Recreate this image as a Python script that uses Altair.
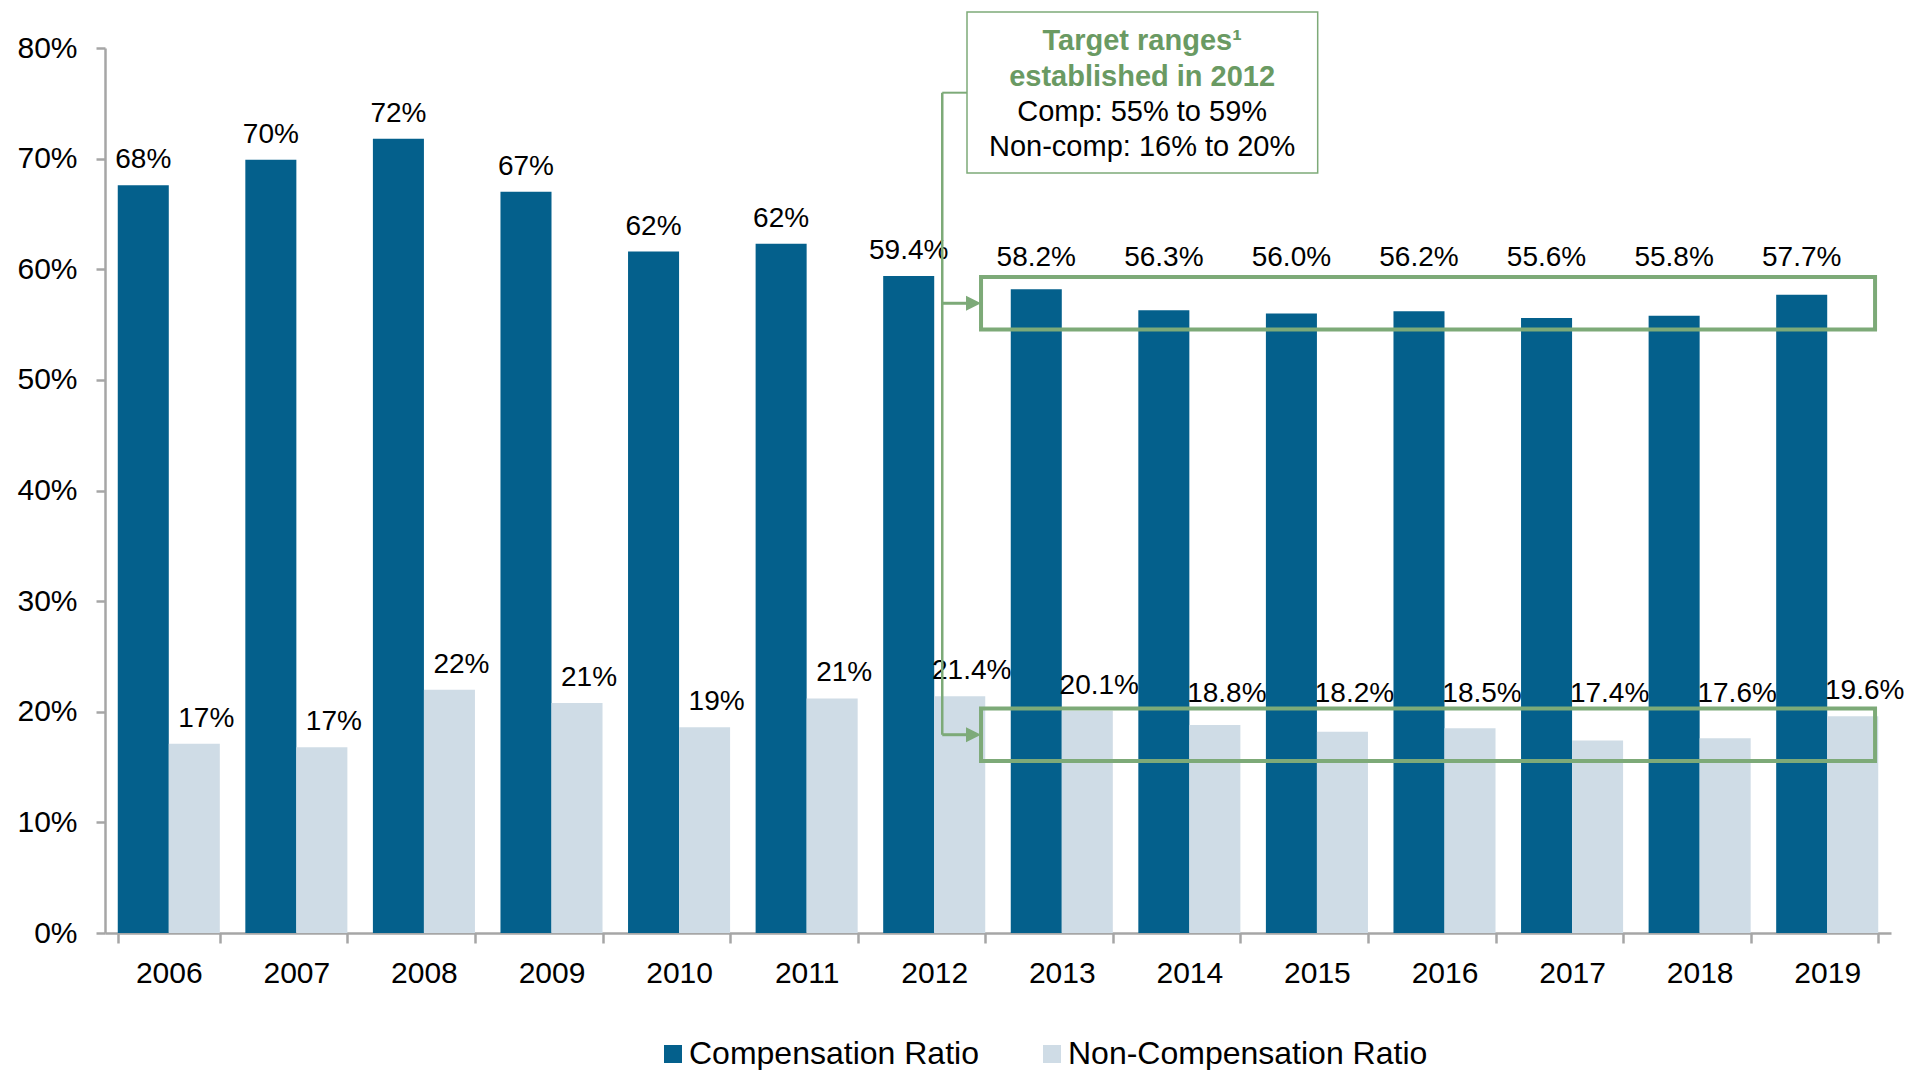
import altair as alt
import pandas as pd

# ---------------- data ----------------
years = [str(y) for y in range(2006, 2020)]
comp = [67.6, 69.9, 71.8, 67.0, 61.6, 62.3, 59.4, 58.2, 56.3, 56.0, 56.2, 55.6, 55.8, 57.7]
noncomp = [17.1, 16.8, 22.0, 20.8, 18.6, 21.2, 21.4, 20.1, 18.8, 18.2, 18.5, 17.4, 17.6, 19.6]
label_decimals = [0, 0, 0, 0, 0, 0, 1, 1, 1, 1, 1, 1, 1, 1]
series_names = ["Compensation Ratio", "Non-Compensation Ratio"]
y_ticks = [0, 10, 20, 30, 40, 50, 60, 70, 80]
comp_target = [55, 59]
noncomp_target = [16, 20]
target_year = 2013  # first year measured against the targets
note_lines = ["Target ranges\u00b9", "established in 2012", "Comp: 55% to 59%", "Non-comp: 16% to 20%"]

# ---------------- styles ----------------
COLORS = ["#04608C", "#CFDCE6"]
GREEN = "#7DAA78"
GREEN_TEXT = "#6A9A63"
AXIS_GRAY = "#A6A6A6"
FONT = "Liberation Sans"

# annotation geometry in band units (x) / value units (y)
ANN = dict(
    box_x0=6.867, box_x1=13.875, pad_lo=0.45, pad_hi=0.3,
    stem_x=6.563, head_x=6.808, connector_y=75.96,
    note_x0=6.757, note_x1=9.506, note_y0=68.7, note_y1=83.25,
    note_cx=8.13, note_baselines=[79.8, 76.56, 73.43, 70.27],
)

W, H = 1786, 885

rows = []
for i, y in enumerate(years):
    for s, vals in zip(series_names, [comp, noncomp]):
        v = vals[i]
        label = f"{v:.{label_decimals[i]}f}%"
        anchor = v
        if int(y) >= target_year:
            if s == series_names[0]:
                anchor = max(v, comp_target[1] - 0.2)
            else:
                anchor = max(v, noncomp_target[1] - 0.7)
        rows.append(dict(year=y, series=s, value=v, label=label, anchor=anchor))
df = pd.DataFrame(rows)

yscale = alt.Scale(domain=[0, 80], nice=False, zero=True)
yaxis = alt.Axis(title=None, values=y_ticks, labelExpr="datum.value + '%'",
                 tickSize=9, labelPadding=19, labelFontSize=30, grid=False)
xscale = alt.Scale(paddingInner=0.2, paddingOuter=0.1)
xoff = alt.XOffset("series:N", sort=series_names, scale=alt.Scale(paddingInner=0, paddingOuter=0))
ascale = alt.Scale(domain=[0, 14], nice=False, zero=False)


def Y(field):
    return alt.Y(field, scale=yscale, axis=yaxis)


bars = alt.Chart(df).mark_bar().encode(
    x=alt.X("year:N", scale=xscale, sort=years,
            axis=alt.Axis(title=None, labelAngle=0, tickBand="extent", tickSize=10,
                          labelPadding=15, labelFontSize=30)),
    xOffset=xoff,
    y=Y("value:Q"),
    color=alt.Color("series:N", scale=alt.Scale(domain=series_names, range=COLORS),
                    legend=alt.Legend(title=None, orient="none", legendX=552, legendY=990,
                                      direction="horizontal", symbolType="square",
                                      symbolSize=324, symbolStrokeWidth=0,
                                      labelFontSize=32, labelLimit=800, labelOffset=0,
                                      columnPadding=57, padding=0, labelFont=FONT,
                                      labelColor="#000000")),
)


def labels(series, dx):
    return alt.Chart(df[df.series == series]).mark_text(
        fontSize=28, font=FONT, color="#000000", baseline="alphabetic", dy=-17, dx=dx
    ).encode(
        x=alt.X("year:N", scale=xscale, sort=years, axis=None),
        xOffset=xoff,
        y=Y("anchor:Q"),
        text="label:N",
    )


ranges_df = pd.DataFrame({
    "x0": [ANN["box_x0"]] * 2,
    "x1": [ANN["box_x1"]] * 2,
    "lo": [comp_target[0] - ANN["pad_lo"], noncomp_target[0] - ANN["pad_lo"]],
    "hi": [comp_target[1] + ANN["pad_hi"], noncomp_target[1] + ANN["pad_hi"]],
})
ranges_df["mid"] = (ranges_df.lo + ranges_df.hi) / 2
ranges_df["stem"] = ANN["stem_x"]
ranges_df["head"] = ANN["head_x"]

boxes = alt.Chart(ranges_df).mark_rect(fillOpacity=0, stroke=GREEN, strokeWidth=4).encode(
    x=alt.X("x0:Q", scale=ascale, axis=None), x2="x1:Q",
    y=Y("lo:Q"), y2="hi:Q",
)
shafts = alt.Chart(ranges_df).mark_rule(stroke=GREEN, strokeWidth=3).encode(
    x=alt.X("stem:Q", scale=ascale, axis=None), x2="head:Q",
    y=Y("mid:Q"),
)
heads = alt.Chart(ranges_df).mark_point(
    shape="M-1,-1L1,0L-1,1Z", filled=True, size=225, color=GREEN, opacity=1
).encode(
    x=alt.X("head:Q", scale=ascale, axis=None),
    y=Y("mid:Q"),
)

stem_df = pd.DataFrame({"x": [ANN["stem_x"]], "y0": [ranges_df.mid.min()],
                        "y1": [ANN["connector_y"]], "xn": [ANN["note_x0"]]})
stem = alt.Chart(stem_df).mark_rule(stroke=GREEN, strokeWidth=2.5).encode(
    x=alt.X("x:Q", scale=ascale, axis=None),
    y=Y("y0:Q"), y2="y1:Q",
)
connector = alt.Chart(stem_df).mark_rule(stroke=GREEN, strokeWidth=2).encode(
    x=alt.X("x:Q", scale=ascale, axis=None), x2="xn:Q",
    y=Y("y1:Q"),
)

note_df = pd.DataFrame({"x0": [ANN["note_x0"]], "x1": [ANN["note_x1"]],
                        "y0": [ANN["note_y0"]], "y1": [ANN["note_y1"]]})
note_box = alt.Chart(note_df).mark_rect(fill="white", stroke=GREEN, strokeWidth=1.5).encode(
    x=alt.X("x0:Q", scale=ascale, axis=None), x2="x1:Q",
    y=Y("y0:Q"), y2="y1:Q",
)

note_text_df = pd.DataFrame({"text": note_lines, "x": [ANN["note_cx"]] * 4,
                             "y": ANN["note_baselines"], "bold": [True, True, False, False]})
note_bold = alt.Chart(note_text_df[note_text_df.bold]).mark_text(
    fontSize=29, font=FONT, fontWeight="bold", color=GREEN_TEXT, baseline="alphabetic", align="center"
).encode(
    x=alt.X("x:Q", scale=ascale, axis=None),
    y=Y("y:Q"),
    text="text:N",
)
note_plain = alt.Chart(note_text_df[~note_text_df.bold]).mark_text(
    fontSize=29, font=FONT, color="#000000", baseline="alphabetic", align="center"
).encode(
    x=alt.X("x:Q", scale=ascale, axis=None),
    y=Y("y:Q"),
    text="text:N",
)

chart = alt.layer(
    bars, labels(series_names[0], 0), labels(series_names[1], 12),
    boxes, shafts, heads, stem, connector, note_box, note_bold, note_plain,
).resolve_scale(x="independent").properties(
    width=W, height=H,
    autosize=alt.AutoSizeParams(type="none"),
    padding={"left": 97, "top": 40, "right": 13, "bottom": 137},
).configure_view(stroke=None).configure_axis(
    labelFont=FONT, labelColor="#000000", domainColor=AXIS_GRAY, tickColor=AXIS_GRAY,
    domainWidth=2.5, tickWidth=2.5, grid=False,
)

chart.save("out.html", embed_options={"renderer": "svg", "actions": False})
